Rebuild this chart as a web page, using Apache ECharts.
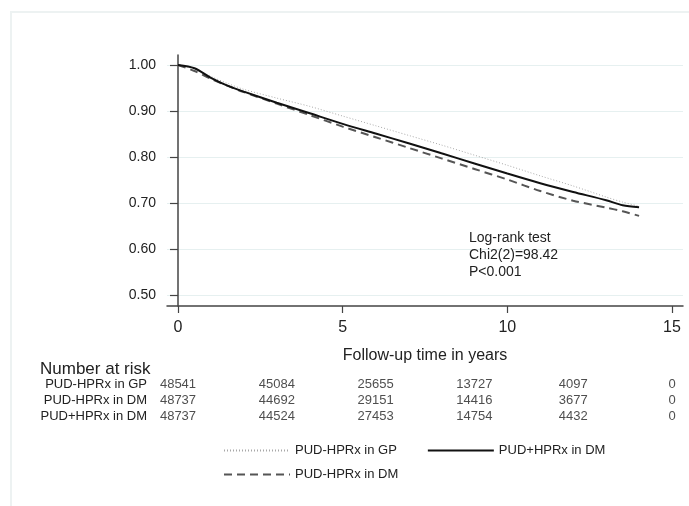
<!DOCTYPE html>
<html>
<head>
<meta charset="utf-8">
<script src="https://cdn.jsdelivr.net/npm/echarts@6/dist/echarts.min.js"></script>
<style>
  body { margin: 0; background: #fff; }
  #chart { position: absolute; left: 0; top: 0; width: 689px; height: 506px; }
  .frame { position: absolute; left: 10px; top: 11px; width: 679px; height: 495px;
    border-top: 2px solid #edf2f2; border-left: 2px solid #edf2f2; }
</style>
</head>
<body>
<div class="frame"></div>
<div id="chart"></div>
<script>
// survival curves (time in years)
const times = [0, 0.5, 1, 1.5, 2, 3, 4, 5, 6, 7, 8, 9, 10, 11, 12, 13, 13.5, 14]
const survGP = [1.000, 0.992, 0.975, 0.960, 0.947, 0.928, 0.910, 0.889, 0.868, 0.847, 0.826, 0.804, 0.782, 0.759, 0.737, 0.713, 0.702, 0.693]
const survDMplus = [1.000, 0.993, 0.972, 0.955, 0.942, 0.918, 0.895, 0.872, 0.851, 0.830, 0.808, 0.786, 0.764, 0.743, 0.724, 0.706, 0.695, 0.691]
const survDMminus = [1.000, 0.987, 0.970, 0.955, 0.941, 0.916, 0.891, 0.866, 0.843, 0.820, 0.797, 0.774, 0.751, 0.726, 0.705, 0.690, 0.682, 0.672]

const yTicks = [0.5, 0.6, 0.7, 0.8, 0.9, 1.0]
const xTicks = [0, 5, 10, 15]

// number at risk table
const riskTimes = [0, 3, 6, 9, 12, 15]
const riskRows = ["PUD-HPRx in GP", "PUD-HPRx in DM", "PUD+HPRx in DM"]
const riskGP = [48541, 45084, 25655, 13727, 4097, 0]
const riskDMminus = [48737, 44692, 29151, 14416, 3677, 0]
const riskDMplus = [48737, 44524, 27453, 14754, 4432, 0]

const font = "Liberation Sans, Arial, sans-serif"
const axisColor = "#444"

const pair = (ys) => times.map((t, i) => [t, ys[i]])
const riskData = (vals, row) => riskTimes.map((t, i) => [t, row, vals[i]])

const chart = echarts.init(document.getElementById("chart"))

const xMin = -0.334
const xMax = 15.334

chart.setOption({
  animation: false,
  textStyle: { fontFamily: font },
  title: [
    {
      text: "Log-rank test\nChi2(2)=98.42\nP<0.001",
      left: 464,
      top: 225,
      textStyle: { fontSize: 14, fontWeight: "normal", color: "#222", lineHeight: 17, fontFamily: font }
    },
    {
      text: "Number at risk",
      left: 35,
      top: 356,
      textStyle: { fontSize: 17, fontWeight: "normal", color: "#222", fontFamily: font }
    }
  ],
  legend: [
    {
      data: ["PUD-HPRx in GP", "PUD+HPRx in DM"],
      left: 218,
      top: 439,
      itemWidth: 66,
      itemHeight: 14,
      itemGap: 30,
      itemStyle: { opacity: 0 },
      textStyle: { fontSize: 13, color: "#222", fontFamily: font }
    },
    {
      data: ["PUD-HPRx in DM"],
      left: 218,
      top: 463,
      itemWidth: 66,
      itemHeight: 14,
      itemStyle: { opacity: 0 },
      textStyle: { fontSize: 13, color: "#222", fontFamily: font }
    }
  ],
  grid: [
    { left: 167, right: 6, top: 55, height: 251 },
    { left: 167, right: 6, top: 377, height: 47 }
  ],
  xAxis: [
    {
      gridIndex: 0,
      type: "value",
      min: xMin,
      max: xMax,
      name: "Follow-up time in years",
      nameLocation: "middle",
      nameGap: 42,
      nameTextStyle: { fontSize: 16, color: "#222", fontFamily: font },
      axisLine: { lineStyle: { color: axisColor, width: 1.5 } },
      axisTick: { customValues: xTicks, length: 7, lineStyle: { color: axisColor, width: 1.2 } },
      axisLabel: { customValues: xTicks, fontSize: 16, color: "#222", margin: 14 },
      splitLine: { show: false }
    },
    {
      gridIndex: 1,
      type: "value",
      min: xMin,
      max: xMax,
      show: false
    }
  ],
  yAxis: [
    {
      gridIndex: 0,
      type: "value",
      min: 0.4761,
      max: 1.0217,
      axisLine: { show: true, lineStyle: { color: axisColor, width: 1.5 } },
      axisTick: { show: true, customValues: yTicks, length: 8, lineStyle: { color: axisColor, width: 1.2 } },
      axisLabel: {
        customValues: yTicks,
        fontSize: 14,
        color: "#222",
        margin: 11,
        formatter: (v) => v.toFixed(2)
      },
      splitLine: { show: true, lineStyle: { color: "#e6f0f0", width: 1 } }
    },
    {
      gridIndex: 1,
      type: "category",
      data: riskRows,
      inverse: true,
      axisLine: { show: false },
      axisTick: { show: false },
      axisLabel: { fontSize: 13, color: "#222", margin: 20, interval: 0 },
      splitLine: { show: false }
    }
  ],
  series: [
    {
      name: "PUD-HPRx in GP",
      type: "line",
      data: pair(survGP),
      symbol: "none",
      smooth: 0.3,
      lineStyle: { color: "#a8a8a8", width: 1, type: [1, 2] },
      itemStyle: { color: "#a8a8a8" },
      z: 2
    },
    {
      name: "PUD+HPRx in DM",
      type: "line",
      data: pair(survDMplus),
      symbol: "none",
      smooth: 0.3,
      lineStyle: { color: "#111", width: 2 },
      itemStyle: { color: "#111" },
      z: 4
    },
    {
      name: "PUD-HPRx in DM",
      type: "line",
      data: pair(survDMminus),
      symbol: "none",
      smooth: 0.3,
      lineStyle: { color: "#555", width: 2, type: [8, 5] },
      itemStyle: { color: "#555" },
      z: 3
    },
    ...[riskGP, riskDMminus, riskDMplus].map((vals, r) => ({
      name: "risk" + r,
      type: "scatter",
      xAxisIndex: 1,
      yAxisIndex: 1,
      symbolSize: 0,
      data: riskData(vals, riskRows[r]),
      label: {
        show: true,
        position: "inside",
        fontSize: 13,
        color: "#222",
        formatter: (p) => String(p.value[2])
      }
    }))
  ]
})
</script>
</body>
</html>
